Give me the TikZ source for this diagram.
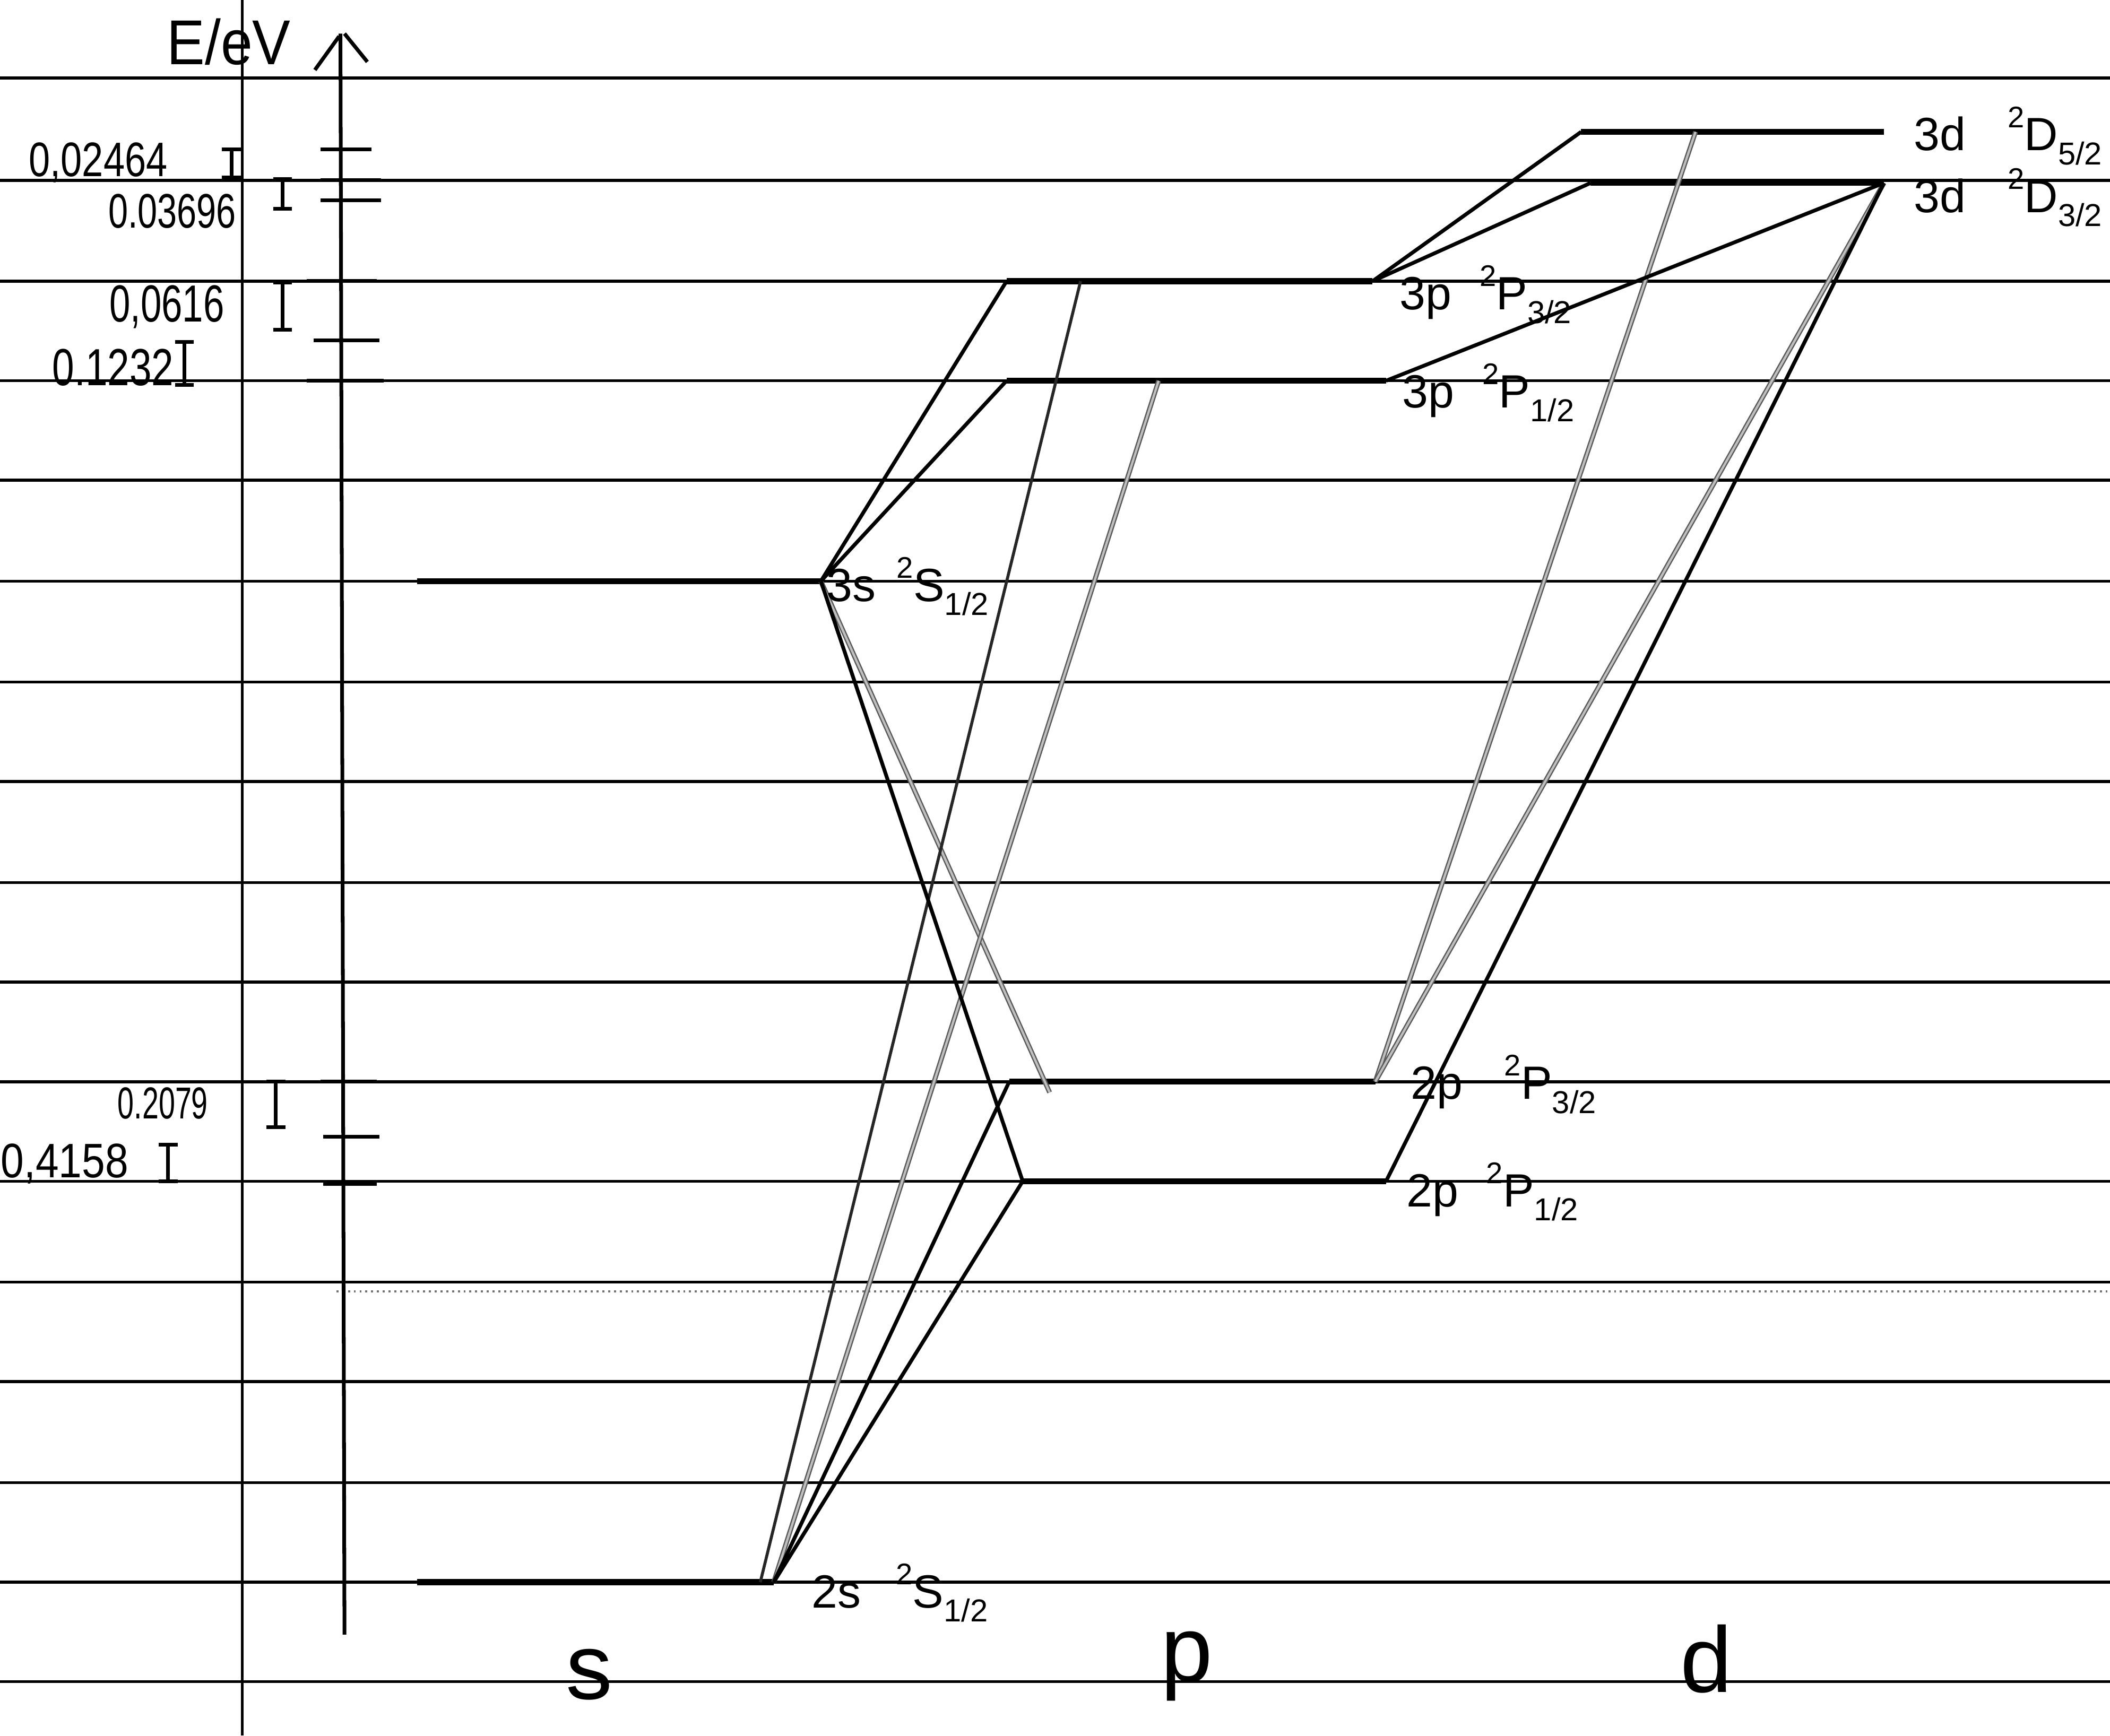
\documentclass[tikz,border=0pt]{standalone}
\usepackage{fontspec}
\setmainfont{Liberation Sans}
\newcommand{\lvlterm}[3]{\raisebox{0.5em}{\fontsize{16}{16}\selectfont #1}#2\raisebox{-0.3em}{\fontsize{17}{17}\selectfont #3}}
\begin{document}
\begin{tikzpicture}[x=0.025357cm,y=-0.025357cm,
  ruled/.style={line width=1.6pt,black},
  levelline/.style={line width=3.2pt,black},
  trans/.style={line width=2pt,black},
  transd/.style={line width=1.6pt,black!85},
  gdouble/.style={draw=black!65,line width=0.7pt,double=black!25,double distance=1.2pt},
  tickmark/.style={line width=2pt},
  lbl/.style={font=\fontsize{25}{27}\selectfont,anchor=base west,inner sep=0pt},
  num/.style={inner sep=0pt},
  hand/.style={font=\fontsize{50}{54}\selectfont,inner sep=0pt,anchor=base}]

\useasboundingbox (0,0) rectangle (1568,1290);
\fill[white] (0,0) rectangle (1568,1290);

% ruled paper
\foreach \y in {58,134,209,283,357,432,507,581,656,730,804,878,953,1027,1102,1176,1250}
  \draw[ruled] (0,\y) -- (1568,\y);
\draw[black!55,line width=1.1pt,dotted] (250,960) -- (1568,960);
\draw[ruled] (180,0) -- (180,1290);

% energy axis
\coordinate (axB) at (256,1215);
\coordinate (axT) at (253,25);
\draw[line width=2pt] (axB) -- (axT);
\draw[line width=2pt] (234,52) -- (252,27);
\draw[line width=2pt] (256,25) -- (273,46);
\node[font=\fontsize{34}{36}\selectfont,xscale=0.9,inner sep=0pt] (E) at (170,31) {E/eV};

% ticks on the axis
\foreach \y/\a/\b in {111/238/276, 134/238/283, 149/238/283, 209/228/280, 253/233/282, 283/228/285, 804/238/280, 845/240/282, 880/240/280}
  \draw[tickmark] (\a,\y) -- (\b,\y);

% interval markers
\foreach \x/\ya/\yb in {172/111/132, 210/133/155, 210/210/245, 137/254/286, 205/804/838, 125/851/878}
  \draw[tickmark] (\x-7,\ya) -- (\x+7,\ya) (\x,\ya) -- (\x,\yb) (\x-7,\yb) -- (\x+7,\yb);

% interval values
\node[num,font=\fontsize{26}{28}\selectfont,xscale=0.79] (v1) at (73,121) {0,02464};
\node[num,font=\fontsize{26}{28}\selectfont,xscale=0.73] (v2) at (128,157) {0.03696};
\node[num,font=\fontsize{28}{30}\selectfont,xscale=0.72] (v3) at (124,228) {0,0616};
\node[num,font=\fontsize{28}{30}\selectfont,xscale=0.76] (v4) at (84,273) {0.1232};
\node[num,font=\fontsize{24}{26}\selectfont,xscale=0.66] (v5) at (121,820) {0.2079};
\node[num,font=\fontsize{26}{28}\selectfont,xscale=0.86] (v6) at (48,865) {0,4158};

% level end points
\coordinate (s2L) at (310,1176); \coordinate (s2a) at (565,1176); \coordinate (s2b) at (575,1176);
\coordinate (s3L) at (310,432);  \coordinate (s3) at (610,432);
\coordinate (p23L) at (750,804); \coordinate (p23R) at (1022,804); \coordinate (p23e) at (780,812);
\coordinate (p21L) at (760,878); \coordinate (p21R) at (1030,878);
\coordinate (p33L) at (748,209); \coordinate (p33R) at (1020,209); \coordinate (p33m) at (803,209);
\coordinate (p31L) at (748,283); \coordinate (p31R) at (1030,283); \coordinate (p31m) at (861,283);
\coordinate (d33L) at (1182,136); \coordinate (d33R) at (1400,136);
\coordinate (d35L) at (1175,98); \coordinate (d35R) at (1400,98); \coordinate (d35m) at (1260,98);

% levels
\draw[levelline] (s2L) -- (s2b);
\draw[levelline] (s3L) -- (s3);
\draw[levelline] (p23L) -- (p23R);
\draw[levelline] (p21L) -- (p21R);
\draw[levelline] (p33L) -- (p33R);
\draw[levelline] (p31L) -- (p31R);
\draw[levelline] (d33L) -- (d33R);
\draw[levelline] (d35L) -- (d35R);

% transitions
\draw[gdouble] (s3) -- (p23e);
\draw[gdouble] (s2b) -- (p31m);
\draw[gdouble] (p23R) -- (d35m);
\draw[gdouble] (p23R) -- (d33R);
\draw[transd] (s2a) -- (p33m);
\draw[trans] (s3) -- (p33L);
\draw[trans] (s3) -- (p31L);
\draw[trans] (s3) -- (p21L);
\draw[trans] (s2b) -- (p23L);
\draw[trans] (s2b) -- (p21L);
\draw[trans] (p33R) -- (d35L);
\draw[trans] (p33R) -- (d33L);
\draw[trans] (p31R) -- (d33R);
\draw[trans] (p21R) -- (d33R);

% level labels
\node[lbl] (t35) at (1422,112) {3d\hspace{0.9em}\lvlterm{2}{D}{5/2}};
\node[lbl] (t33) at (1422,158) {3d\hspace{0.9em}\lvlterm{2}{D}{3/2}};
\node[lbl] (t3p3) at (1040,230) {3p\hspace{0.6em}\lvlterm{2}{P}{3/2}};
\node[lbl] (t3p1) at (1042,303) {3p\hspace{0.6em}\lvlterm{2}{P}{1/2}};
\node[lbl] (t3s) at (614,447) {3s\hspace{0.45em}\lvlterm{2}{S}{1/2}};
\node[lbl] (t2p3) at (1048,817) {2p\hspace{0.9em}\lvlterm{2}{P}{3/2}};
\node[lbl] (t2p1) at (1045,897) {2p\hspace{0.6em}\lvlterm{2}{P}{1/2}};
\node[lbl] (t2s) at (603,1195) {2s\hspace{0.75em}\lvlterm{2}{S}{1/2}};

% orbital columns
\node[hand] (cs) at (438,1263) {s};
\node[hand] (cp) at (882,1250) {p};
\node[hand] (cd) at (1268,1258) {d};
\end{tikzpicture}
\end{document}
